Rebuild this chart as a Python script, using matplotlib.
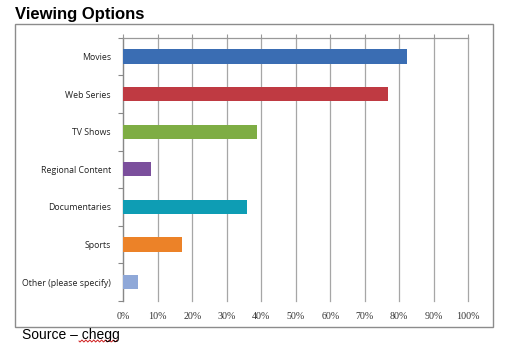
import matplotlib
matplotlib.use("Agg")
import matplotlib.pyplot as plt
from matplotlib.patches import Rectangle
import numpy as np

categories = ["Movies", "Web Series", "TV Shows", "Regional Content",
              "Documentaries", "Sports", "Other (please specify)"]
values = [82.2, 76.8, 38.8, 7.9, 35.9, 17.0, 4.3]
colors = ["#3a6db3", "#bf3a42", "#7ead44", "#7b4f9c", "#0e9db4", "#ec8228", "#8fa8d8"]
xticks = list(range(0, 101, 10))
xticklabels = [f"{t}%" for t in xticks]

fig = plt.figure(figsize=(5.06, 3.51), dpi=100)
W, H = 506, 351

# outer frame
fig.patches.append(Rectangle((15 / W, 1 - 327 / H), 478 / W, 303 / H,
                             transform=fig.transFigure, fill=False,
                             edgecolor="#8c8c8c", linewidth=1.0))

ax = fig.add_axes([123.3 / W, 1 - 301 / H, 345 / W, 263.3 / H])
y = np.arange(len(categories))
ax.barh(y, values, height=0.38, color=colors, edgecolor="none", zorder=3)
ax.set_ylim(len(categories) - 0.5, -0.5)
ax.set_xlim(0, 100)

ax.set_yticks(y)
ax.set_yticklabels(categories, fontsize=6.3, family="Open Sans", color="#222222")
ax.set_yticks(np.arange(-0.5, len(categories) + 0.5, 1), minor=True)
ax.tick_params(axis="y", which="major", length=0, pad=9)
ax.tick_params(axis="y", which="minor", length=3.5, color="#888888", width=0.8)

ax.set_xticks(xticks)
ax.set_xticklabels(xticklabels, fontsize=7.2, family="Liberation Serif", color="#333333")
ax.tick_params(axis="x", top=True, bottom=False, labeltop=False, labelbottom=True,
               length=3, color="#999999", width=0.8, pad=5)
ax.grid(axis="x", color="#a6a6a6", linewidth=0.9, zorder=0)
ax.set_axisbelow(True)
for gl in ax.xaxis.get_gridlines():
    gl.set_clip_on(False)

for s in ["bottom", "right"]:
    ax.spines[s].set_visible(False)
ax.spines["top"].set_color("#999999")
ax.spines["top"].set_linewidth(0.9)
ax.spines["left"].set_color("#888888")
ax.spines["left"].set_linewidth(0.9)

fig.text(15 / W, 1 - 19.5 / H, "Viewing Options", fontsize=12, fontweight="bold",
         family="Liberation Sans", va="baseline", ha="left")
fig.text(22 / W, 1 - 335 / H, "Source \u2013 chegg", fontsize=10,
         family="Liberation Sans", va="center", ha="left")

# spell-check squiggle under "chegg"
xs = np.linspace(79, 117, 40)
ys = 341 + 1.0 * np.sin((xs - 79) * 1.6)
fig.lines.append(plt.Line2D(xs / W, 1 - ys / H, transform=fig.transFigure,
                            color="#d02020", linewidth=0.7))

fig.savefig("out.png", dpi=100)
